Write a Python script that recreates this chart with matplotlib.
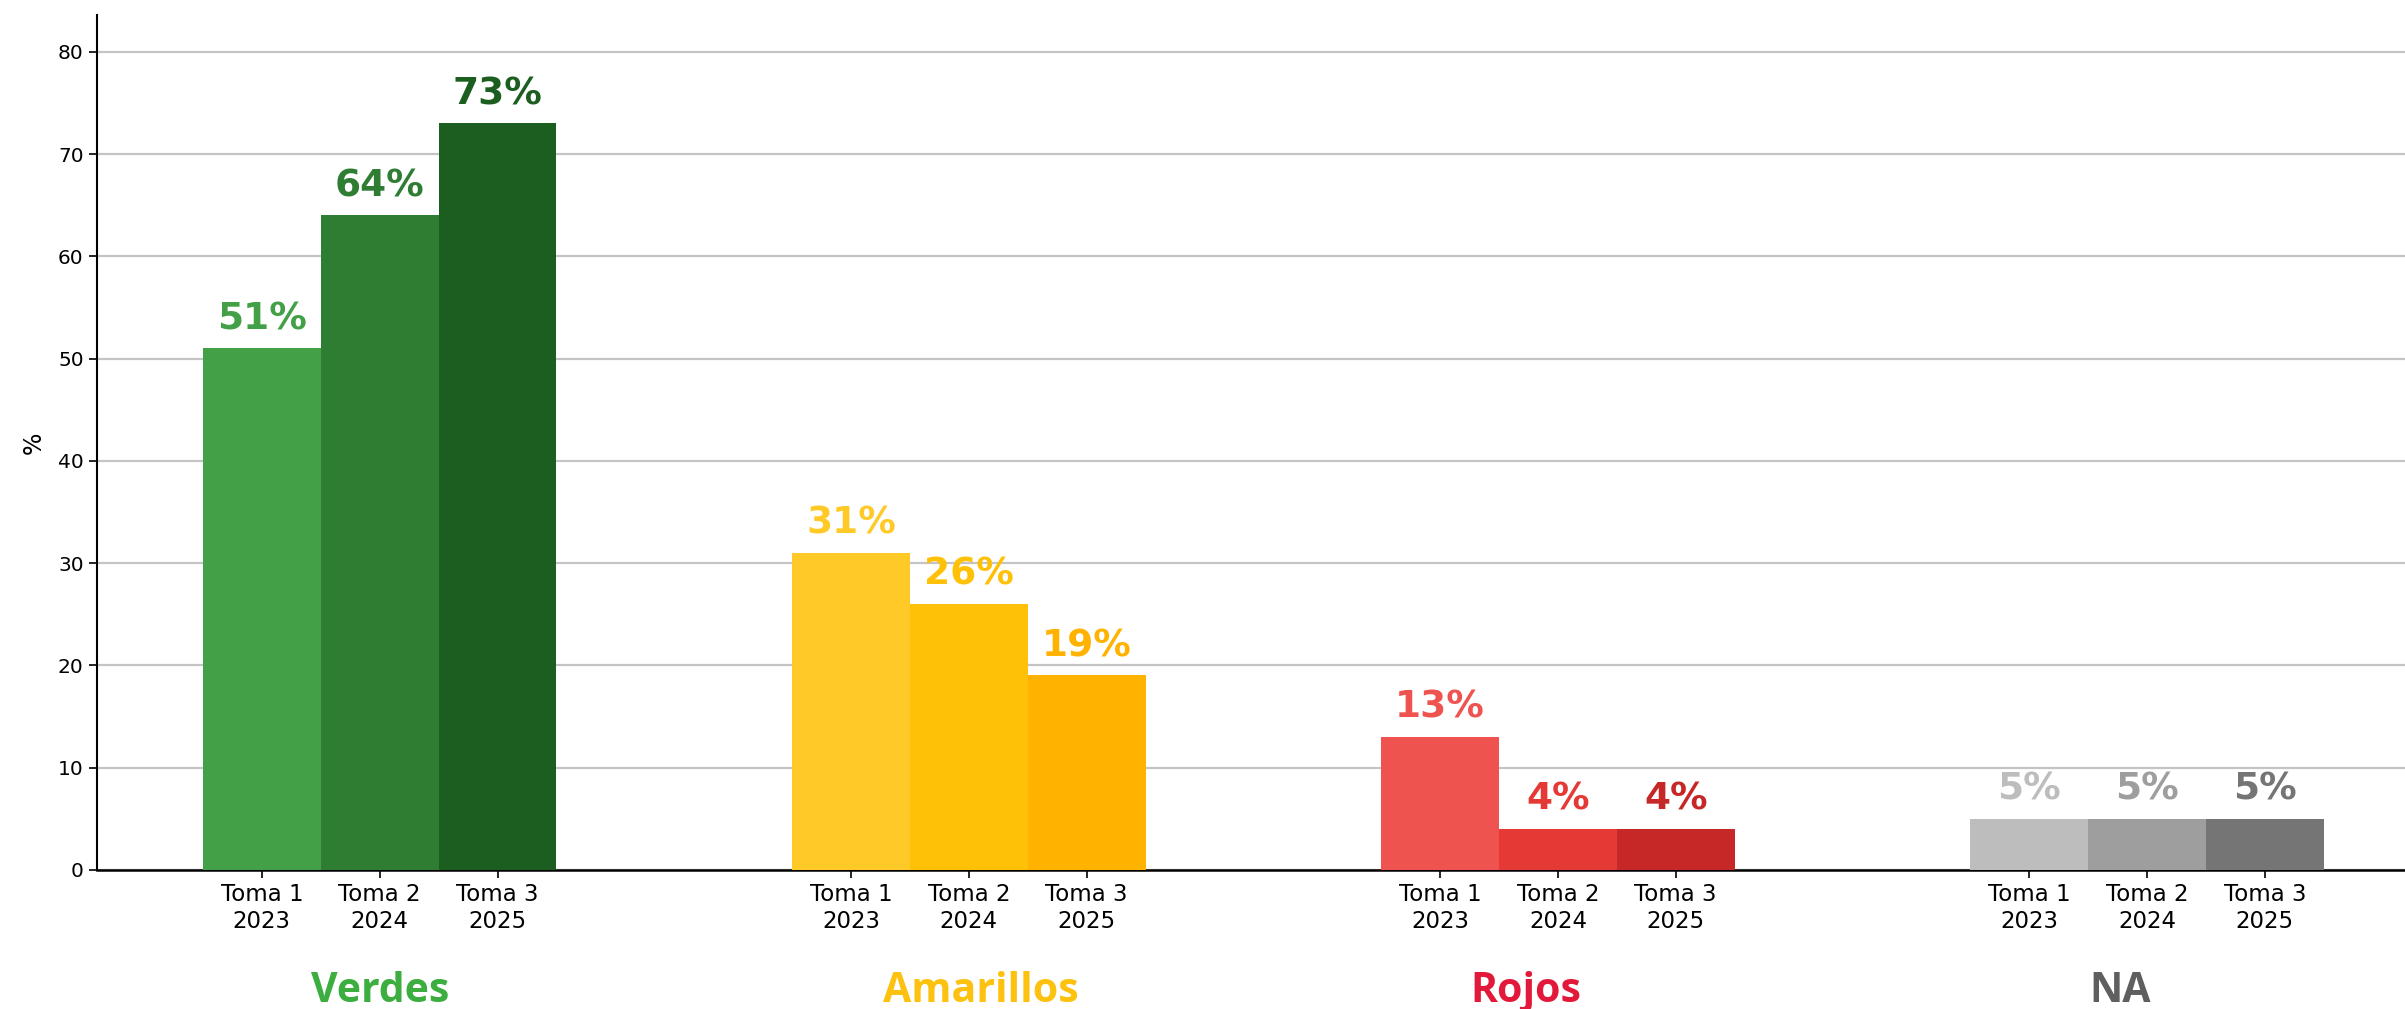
import numpy as np
import matplotlib
matplotlib.use('Agg')
import matplotlib.pyplot as plt
import matplotlib.transforms as mtransforms

# datos
categorias = ['Verdes', 'Amarillos', 'Rojos', 'NA']
tomas = ['Toma 1\n2023', 'Toma 2\n2024', 'Toma 3\n2025']
verdes = [51, 64, 73]
amarillos = [31, 26, 19]
rojos = [13, 4, 4]
na = [5, 5, 5]
valores = [verdes, amarillos, rojos, na]

colores_barras = [
    ['#43a047', '#2e7d32', '#1b5e20'],
    ['#ffca28', '#ffc107', '#ffb300'],
    ['#ef5350', '#e53935', '#c62828'],
    ['#bdbdbd', '#9e9e9e', '#757575'],
]
colores_cat = ['#3cae3f', '#fdc10f', '#e3193b', '#5f5f5f']
# posicion horizontal de los titulos de grupo (algo desplazados del centro)
pos_cat = [0.0, 1.02, 1.946, 2.954]

plt.rcParams['font.family'] = ['DejaVu Sans']

fig = plt.figure(figsize=(24.05, 10.09), dpi=100)
ax = fig.add_axes((0.0403, 0.138, 0.9597, 0.847))

ancho = 0.2
xticks = []
xlabels = []
for i, vals in enumerate(valores):
    for j, v in enumerate(vals):
        x = i + (j - 1) * ancho
        ax.bar(x, v, width=ancho, color=colores_barras[i][j], zorder=3)
        ax.annotate(f'{v}%', (x, v), xytext=(0, 8), textcoords='offset points',
                    ha='center', va='bottom', fontsize=27, fontweight='bold',
                    color=colores_barras[i][j], zorder=4)
        xticks.append(x)
        xlabels.append(tomas[j])

ax.set_xticks(xticks)
ax.set_xticklabels(xlabels, fontsize=16.5)
ax.tick_params(axis='y', labelsize=14.5)
ax.tick_params(axis='both', length=6, width=1.2)
ax.set_xlim(-0.48, 3.438)
ax.set_ylim(0, 73 * 1.145)
ax.set_ylabel('%', fontsize=17, labelpad=9)

ax.yaxis.grid(True, color='#c4c4c4', linewidth=1.6, zorder=0)
ax.set_axisbelow(True)
for s in ['top', 'right']:
    ax.spines[s].set_visible(False)
ax.spines['left'].set_linewidth(1.5)
ax.spines['bottom'].set_linewidth(1.8)

trans = mtransforms.blended_transform_factory(ax.transData, ax.transAxes)
for i, cat in enumerate(categorias):
    ax.text(pos_cat[i], -0.1546, cat, transform=trans, ha='center', va='baseline',
            fontsize=29.5, fontweight='bold', color=colores_cat[i],
            family=['Open Sans', 'DejaVu Sans'])

fig.savefig('out.png', dpi=100)
